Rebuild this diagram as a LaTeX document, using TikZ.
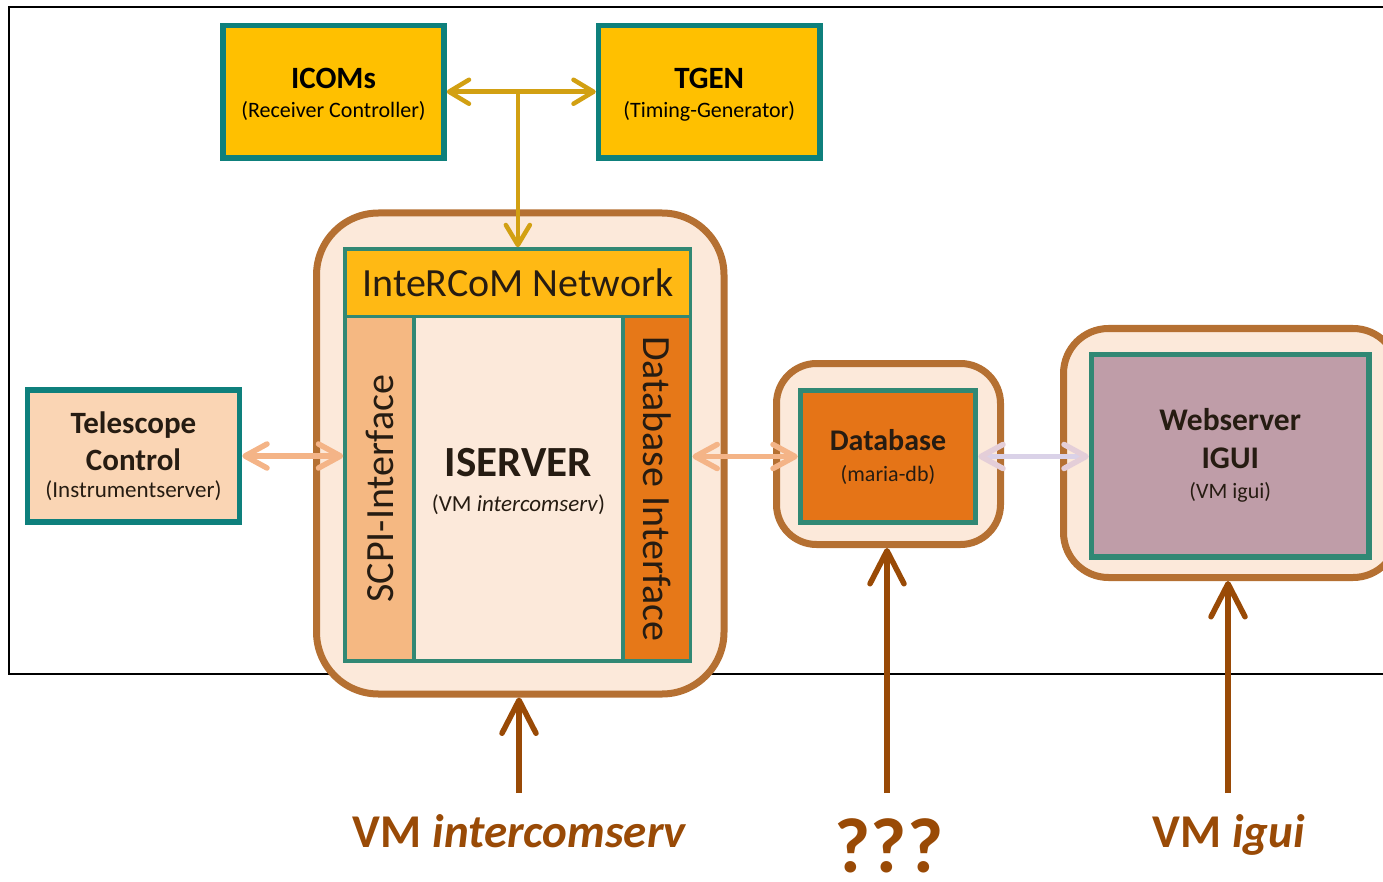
\documentclass[tikz,border=0pt]{standalone}
\usepackage{fontspec}
\setmainfont{Carlito}
\usetikzlibrary{arrows.meta,calc}
\definecolor{tealA}{RGB}{14,128,124}
\definecolor{tealB}{RGB}{49,136,116}
\definecolor{yellowA}{RGB}{255,192,0}
\definecolor{netF}{RGB}{255,185,20}
\definecolor{scpiF}{RGB}{245,184,130}
\definecolor{dbifF}{RGB}{230,120,24}
\definecolor{peach}{RGB}{252,233,218}
\definecolor{brownB}{RGB}{181,112,50}
\definecolor{teleF}{RGB}{250,213,180}
\definecolor{dbF}{RGB}{229,116,23}
\definecolor{webF}{RGB}{191,157,168}
\definecolor{brownD}{RGB}{153,74,6}
\definecolor{goldC}{RGB}{210,160,18}
\definecolor{lightO}{RGB}{244,180,135}
\definecolor{lavL}{RGB}{218,210,232}
\definecolor{lavH}{RGB}{228,206,216}
\definecolor{txtdark}{RGB}{38,28,18}
\tikzset{
  gtip/.tip={Straight Barb[length=20pt,width=24pt,round]},
  otip/.tip={Straight Barb[length=22pt,width=24pt,round]},
  ltip/.tip={Straight Barb[length=22pt,width=24pt,round,color=lavH]},
  btip/.tip={Straight Barb[length=33pt,width=34pt,round]},
  tealbox/.style={draw=tealA, line width=5.5pt, inner sep=0pt, align=center, text=txtdark},
  tealboxb/.style={draw=tealB, line width=5.5pt, inner sep=0pt, align=center, text=txtdark},
  boxtext/.style={align=center, inner sep=0pt},
  vmbox/.style={draw=brownB, fill=peach, line width=7pt, inner sep=0pt},
  ifbox/.style={draw=tealB, line width=3.5pt, inner sep=0pt, text=txtdark},
  gline/.style={draw=goldC, line width=4.5pt},
  oline/.style={draw=lightO, line width=5.5pt},
  lline/.style={draw=lavL, line width=5.5pt},
  bline/.style={draw=brownD, line width=5.5pt},
  vmlabel/.style={anchor=base, text=brownD, inner sep=0pt}
}
\begin{document}
\begin{tikzpicture}[x=1pt,y=-1pt]
\useasboundingbox (0,0) rectangle (1383,882);
\clip (0,0) rectangle (1383,882);
% frame
\draw[line width=1.6pt] (1400,7) -- (9,7) -- (9,674) -- (1400,674);

% top boxes
\node[tealbox, fill=yellowA, minimum width=221pt, minimum height=132.5pt] (icoms) at (333.5,91.75) {};
\node[boxtext, text=black, font=\fontsize{22}{29}\selectfont] (icomstxt) at ($(icoms.center)+(0,3)$)
      {{\fontsize{31}{29}\selectfont\bfseries ICOMs}\\(Receiver Controller)};
\node[tealbox, fill=yellowA, minimum width=221.5pt, minimum height=132.5pt] (tgen) at (709.25,91.75) {};
\node[boxtext, text=black, font=\fontsize{22}{29}\selectfont] (tgentxt) at ($(tgen.center)+(0,3)$)
      {{\fontsize{31}{29}\selectfont\bfseries TGEN}\\(Timing-Generator)};

% telescope
\node[tealbox, fill=teleF, minimum width=212pt, minimum height=132pt,
      font=\fontsize{23}{37}\selectfont] (tele) at (133.5,456)
      {{\fontsize{31}{37}\selectfont\bfseries Telescope}\\{\fontsize{31}{37}\selectfont\bfseries Control}\\[-10pt](Instrumentserver)};

% ISERVER group
\node[vmbox, rounded corners=62pt, minimum width=407.5pt, minimum height=481pt] (isouter) at (520.25,453.5) {};
\node[ifbox, fill=netF, minimum width=345.7pt, minimum height=67.7pt,
      font=\fontsize{40}{40}\selectfont] (net) at (517.85,282.85) {InteRCoM Network};
\node[ifbox, fill=scpiF, rotate=90, minimum width=344.3pt, minimum height=69pt,
      font=\fontsize{40}{40}\selectfont] (scpi) at (379.5,488.85) {SCPI-Interface};
\node[ifbox, fill=peach, minimum width=209pt, minimum height=344.3pt] (core) at (518.5,488.85) {};
\node[boxtext, text=txtdark, font=\fontsize{23}{35}\selectfont] (coretxt) at (518.5,481)
      {{\fontsize{43}{35}\selectfont\bfseries ISERVER}\\(VM \textit{intercomserv})};
\node[ifbox, fill=dbifF, rotate=-90, minimum width=344.3pt, minimum height=67.7pt,
      font=\fontsize{40}{40}\selectfont] (dbif) at (656.85,488.85) {Database Interface};

% database group
\node[vmbox, rounded corners=40pt, minimum width=224pt, minimum height=181pt] (dbout) at (888.5,454) {};
\node[tealboxb, fill=dbF, minimum width=175pt, minimum height=132pt,
      font=\fontsize{22}{31}\selectfont] (dbin) at (888,456.5)
      {{\fontsize{30}{31}\selectfont\bfseries Database}\\(maria-db)};

% webserver group
\node[vmbox, rounded corners=45pt, minimum width=334.5pt, minimum height=249pt] (webout) at (1230.75,453) {};
\node[tealboxb, fill=webF, minimum width=277.5pt, minimum height=202.5pt,
      font=\fontsize{22}{38}\selectfont] (webin) at (1230.25,455.75)
      {{\fontsize{31.5}{38}\selectfont\bfseries Webserver}\\{\fontsize{31.5}{38}\selectfont\bfseries IGUI}\\[-8pt](VM igui)};

% connectors
\draw[gline, gtip-gtip] (icoms.east) -- (tgen.west);
\coordinate (junc) at (net.north |- icoms.east);
\draw[gline, -gtip] (junc) -- (net.north);
\draw[oline, otip-otip] (tele.east) -- (tele.east -| net.west);
\draw[oline, otip-otip] (dbin.west -| net.east) -- (dbin.west);
\draw[lline, ltip-ltip] (dbin.east) -- (dbin.east -| webin.west);

% bottom arrows and labels
\coordinate (s1) at (519,793);
\coordinate (s2) at (887,793);
\coordinate (s3) at (1228,793);
\draw[bline, -btip] (s1) -- (s1 |- isouter.south);
\draw[bline, -btip] (s2) -- (s2 |- dbout.south);
\draw[bline, -btip] (s3) -- (s3 |- webout.south);
\node[vmlabel, font=\fontsize{47}{47}\selectfont\bfseries] (l1) at (520,847) {VM \textit{intercomserv}};
\node[vmlabel, font=\fontsize{78}{78}\selectfont\bfseries] (l2) at (889,872) {???};
\node[vmlabel, font=\fontsize{47}{47}\selectfont\bfseries] (l3) at (1229,847) {VM \textit{igui}};
\end{tikzpicture}
\end{document}
